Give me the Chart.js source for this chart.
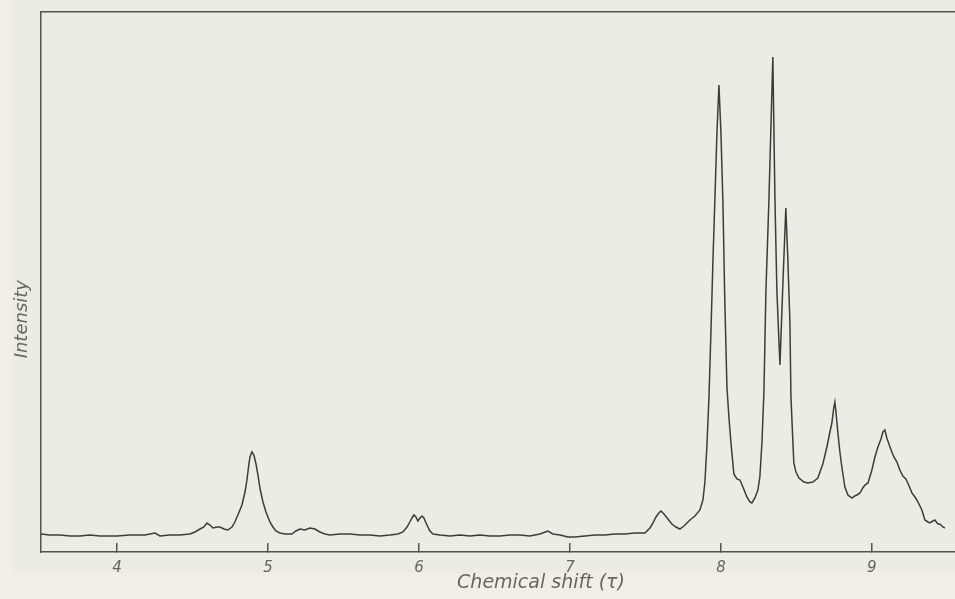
<!DOCTYPE html>
<html>
<head>
<meta charset="utf-8">
<title>Chemical shift spectrum</title>
<script src="https://cdn.jsdelivr.net/npm/chart.js@4/dist/chart.umd.min.js"></script>
<style>
  html, body { margin: 0; padding: 0; overflow: hidden; background: #f2eee5; }
  #sheet { position: absolute; left: 13px; top: 0; width: 1100px; height: 573px; background: #ecebe4; }
  #wrap { position: absolute; left: 0; top: 0; }
</style>
</head>
<body>
<div id="sheet"></div>
<div id="wrap"><canvas id="spectrum" width="1041" height="599"></canvas></div>
<script>
// chemical shift (tau) of each trace point
const shifts = [
  3.497, 3.556, 3.623, 3.689, 3.755, 3.821, 3.887, 4.000, 4.086, 4.185,
  4.252, 4.285, 4.351, 4.417, 4.483, 4.517, 4.550, 4.576, 4.596, 4.616,
  4.636, 4.662, 4.682, 4.709, 4.735, 4.762, 4.781, 4.801, 4.828, 4.848,
  4.861, 4.874, 4.881, 4.894, 4.907, 4.921, 4.934, 4.947, 4.967, 4.987,
  5.013, 5.033, 5.053, 5.079, 5.113, 5.159, 5.185, 5.212, 5.245, 5.278,
  5.311, 5.344, 5.377, 5.411, 5.477, 5.543, 5.609, 5.675, 5.742, 5.808,
  5.861, 5.894, 5.921, 5.940, 5.954, 5.967, 5.980, 5.993, 6.007, 6.020,
  6.033, 6.053, 6.073, 6.093, 6.139, 6.205, 6.272, 6.338, 6.404, 6.470,
  6.536, 6.603, 6.669, 6.735, 6.801, 6.854, 6.887, 6.934, 6.987, 7.033,
  7.099, 7.166, 7.232, 7.298, 7.364, 7.430, 7.497, 7.530, 7.550, 7.570,
  7.589, 7.603, 7.623, 7.649, 7.675, 7.702, 7.728, 7.755, 7.795, 7.828,
  7.861, 7.881, 7.894, 7.907, 7.921, 7.934, 7.947, 7.960, 7.974, 7.987,
  8.000, 8.013, 8.026, 8.040, 8.053, 8.066, 8.086, 8.106, 8.126, 8.146,
  8.172, 8.192, 8.205, 8.225, 8.245, 8.258, 8.272, 8.285, 8.298, 8.318,
  8.344, 8.358, 8.371, 8.391, 8.411, 8.430, 8.444, 8.457, 8.464, 8.477,
  8.483, 8.497, 8.517, 8.550, 8.576, 8.609, 8.642, 8.675, 8.702, 8.722,
  8.735, 8.748, 8.755, 8.762, 8.775, 8.788, 8.801, 8.821, 8.841, 8.868,
  8.887, 8.901, 8.921, 8.940, 8.954, 8.974, 9.000, 9.020, 9.040, 9.060,
  9.073, 9.086, 9.099, 9.113, 9.132, 9.146, 9.166, 9.185, 9.205, 9.225,
  9.238, 9.252, 9.265, 9.285, 9.298, 9.318, 9.331, 9.351, 9.371, 9.384,
  9.404, 9.417, 9.437, 9.450, 9.470, 9.483
];

// recorded intensity (arbitrary units) at each shift
const intensity = [
  18, 17, 17, 16, 16, 17, 16, 16, 17, 17,
  19, 16, 17, 17, 18, 20, 23, 25, 29, 27,
  24, 25, 25, 23, 22, 25, 30, 37, 47, 60,
  72, 88, 95, 100, 97, 88, 77, 64, 50, 40,
  30, 25, 21, 19, 18, 18, 21, 23, 22, 24,
  23, 20, 18, 17, 18, 18, 17, 17, 16, 17,
  18, 20, 25, 30, 34, 37, 35, 31, 34, 36,
  34, 27, 21, 18, 17, 16, 17, 16, 17, 16,
  16, 17, 17, 16, 18, 21, 18, 17, 15, 15,
  16, 17, 17, 18, 18, 19, 19, 24, 29, 35,
  39, 41, 38, 33, 28, 25, 23, 26, 32, 36,
  42, 52, 70, 105, 155, 220, 290, 352, 420, 467,
  420, 352, 250, 165, 135, 110, 78, 73, 72, 65,
  55, 50, 49, 54, 62, 75, 110, 160, 260, 352,
  495, 352, 260, 187, 270, 344, 290, 230, 155, 109,
  89, 80, 74, 70, 69, 70, 74, 88, 105, 120,
  129, 145, 150, 140, 119, 100, 85, 65, 57, 54,
  56, 57, 59, 64, 67, 69, 82, 95, 105, 113,
  120, 122, 114, 108, 100, 95, 90, 82, 76, 73,
  69, 64, 59, 55, 52, 46, 42, 32, 30, 29,
  31, 32, 28, 28, 25, 24
];

const tickShifts = [4, 5, 6, 7, 8, 9];

const inkColor = '#3c3c3a';
const axisColor = '#55554f';
const textColor = '#66665f';
const letterFont = 'DejaVu Sans';

const points = shifts.map((s, i) => ({ x: s, y: intensity[i] }));

new Chart(document.getElementById('spectrum'), {
  type: 'line',
  data: {
    datasets: [{
      data: points,
      borderColor: inkColor,
      borderWidth: 1.5,
      pointRadius: 0,
      tension: 0
    }]
  },
  options: {
    responsive: false,
    animation: false,
    layout: { padding: 0 },
    plugins: {
      legend: { display: false },
      tooltip: { enabled: false }
    },
    scales: {
      x: {
        type: 'linear',
        position: 'bottom',
        min: 3.497,
        max: 10.12,
        afterBuildTicks: scale => { scale.ticks = tickShifts.map(v => ({ value: v })); },
        afterFit: scale => { scale.height = 47; },
        // short marks pointing up into the plot
        grid: { drawOnChartArea: false, tickLength: -9, color: axisColor, lineWidth: 1.5 },
        border: { color: axisColor, width: 1.5 },
        ticks: {
          padding: 16,
          color: textColor,
          font: { family: letterFont, size: 15, style: 'italic' }
        },
        title: {
          display: true,
          text: 'Chemical shift (\u03c4)',
          color: textColor,
          font: { family: letterFont, size: 19, style: 'italic' },
          padding: { top: 0, bottom: 5 }
        }
      },
      xTop: {
        type: 'linear',
        position: 'top',
        min: 3.497,
        max: 10.12,
        afterFit: scale => { scale.height = 12; },
        grid: { display: false, drawTicks: false },
        ticks: { display: false },
        border: { display: true, color: axisColor, width: 1.5 }
      },
      y: {
        min: 0,
        max: 540,
        afterFit: scale => { scale.width = 41; },
        grid: { display: false, drawTicks: false },
        ticks: { display: false },
        border: { color: axisColor, width: 1.5 },
        title: {
          display: true,
          // trailing spaces push the word down towards the baseline
          text: 'Intensity' + ' '.repeat(13),
          color: textColor,
          font: { family: letterFont, size: 18, style: 'italic' },
          padding: { top: 12, bottom: 0 }
        }
      }
    }
  }
});
</script>
</body>
</html>
